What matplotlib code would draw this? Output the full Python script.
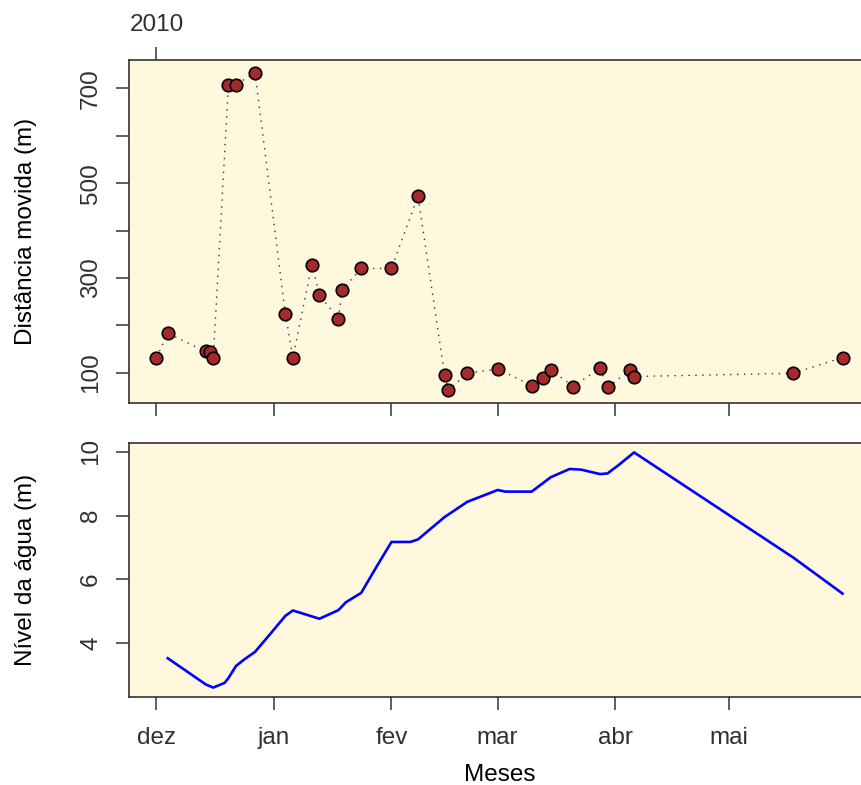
import numpy as np
import pandas as pd
import matplotlib
matplotlib.use('Agg')
import matplotlib.pyplot as plt

plt.rcParams['font.family'] = ['Liberation Sans', 'DejaVu Sans']

# distance moved (m) at each tracking date
move_dates = ['2009-12-01', '2009-12-04', '2009-12-14', '2009-12-15', '2009-12-16',
              '2009-12-20', '2009-12-22', '2009-12-27', '2010-01-04', '2010-01-06',
              '2010-01-11', '2010-01-13', '2010-01-18', '2010-01-19', '2010-01-24',
              '2010-02-01', '2010-02-08', '2010-02-15', '2010-02-16', '2010-02-21',
              '2010-03-01', '2010-03-10', '2010-03-13', '2010-03-15', '2010-03-21',
              '2010-03-28', '2010-03-30', '2010-04-05', '2010-04-06', '2010-05-18',
              '2010-05-31']
move_dist = [132, 183, 145, 143, 132,
             708, 708, 733, 224, 132,
             328, 264, 214, 275, 320,
             320, 473, 96, 63, 99,
             108, 73, 89, 106, 71,
             110, 69, 106, 92, 99,
             132]

# water level (m)
water_dates = ['2009-12-04', '2009-12-14', '2009-12-16', '2009-12-19', '2009-12-20',
               '2009-12-22', '2009-12-24', '2009-12-27', '2009-12-31', '2010-01-04',
               '2010-01-06', '2010-01-13', '2010-01-18', '2010-01-20', '2010-01-24',
               '2010-01-28', '2010-02-01', '2010-02-06', '2010-02-08', '2010-02-15',
               '2010-02-21', '2010-02-26', '2010-03-01', '2010-03-03', '2010-03-10',
               '2010-03-15', '2010-03-20', '2010-03-23', '2010-03-28', '2010-03-30',
               '2010-04-02', '2010-04-06', '2010-05-18', '2010-05-31']
water_level = [3.52, 2.70, 2.60, 2.75, 2.90,
               3.28, 3.47, 3.72, 4.28, 4.85,
               5.02, 4.76, 5.03, 5.28, 5.57,
               6.38, 7.17, 7.17, 7.25, 7.95,
               8.43, 8.66, 8.80, 8.75, 8.75,
               9.20, 9.46, 9.44, 9.30, 9.32,
               9.59, 9.98, 6.68, 5.55]

month_ticks = ['2009-12-01', '2010-01-01', '2010-02-01', '2010-03-01', '2010-04-01', '2010-05-01']
month_labels = ['dez', 'jan', 'fev', 'mar', 'abr', 'mai']

move_dates = pd.to_datetime(move_dates)
water_dates = pd.to_datetime(water_dates)
month_ticks = pd.to_datetime(month_ticks)

bg = 'cornsilk'
frame_col = '#333333'
tick_col = '#303030'
tick_len = 9.4
fsize = 17.5


def r_range(lo, hi):
    # base R style 4% padding of the axis range
    pad = (hi - lo) * 0.04
    return lo - pad, hi + pad


def style_axes(ax):
    ax.set_facecolor(bg)
    for s in ax.spines.values():
        s.set_color(frame_col)
        s.set_linewidth(1.2)
    ax.tick_params(direction='out', length=tick_len, width=1.1, color=frame_col,
                   labelsize=fsize, labelcolor=tick_col)
    ax.tick_params(axis='y', labelrotation=90, pad=10)
    ax.tick_params(axis='x', pad=12)
    for lab in ax.get_yticklabels():
        lab.set_va('center')


xlim = r_range(move_dates.min(), move_dates.max())

fig = plt.figure(figsize=(8.62, 7.85), dpi=100)

# top panel: distance moved
ax1 = fig.add_axes([129 / 862, 1 - 403 / 785, 741 / 862, 343 / 785])
ax1.plot(move_dates, move_dist, linestyle=(0, (1, 4)), color=frame_col, lw=1.0, zorder=2)
ax1.plot(move_dates, move_dist, linestyle='none', marker='o', markersize=9,
         markerfacecolor='#A52A2A', markeredgecolor='black', markeredgewidth=1.2, zorder=3)
ax1.set_xlim(xlim)
ax1.set_ylim(r_range(min(move_dist), max(move_dist)))
ax1.set_xticks(month_ticks)
ax1.set_xticklabels([''] * len(month_ticks))
ax1.set_yticks(range(100, 800, 100))
ax1.set_yticklabels(['100', '', '300', '', '500', '', '700'])
ax1.set_ylabel('Distância movida (m)', fontsize=fsize, labelpad=31)
style_axes(ax1)

top = ax1.secondary_xaxis('top')
top.set_xticks([month_ticks[0]])
top.set_xticklabels(['2010'])
top.tick_params(direction='out', length=tick_len, width=1.1, color=frame_col,
                labelsize=fsize, labelcolor=tick_col, pad=8)
top.spines['top'].set_visible(False)

# bottom panel: water level
ax2 = fig.add_axes([129 / 862, 1 - 697 / 785, 741 / 862, 254 / 785])
ax2.plot(water_dates, water_level, color='blue', lw=1.9)
ax2.set_xlim(xlim)
ax2.set_ylim(r_range(min(water_level), max(water_level)))
ax2.set_xticks(month_ticks)
ax2.set_xticklabels(month_labels)
ax2.set_yticks([4, 6, 8, 10])
ax2.set_ylabel('Nível da água (m)', fontsize=fsize, labelpad=31)
ax2.set_xlabel('Meses', fontsize=fsize, labelpad=11)
style_axes(ax2)

fig.savefig('out.png', dpi=100)
